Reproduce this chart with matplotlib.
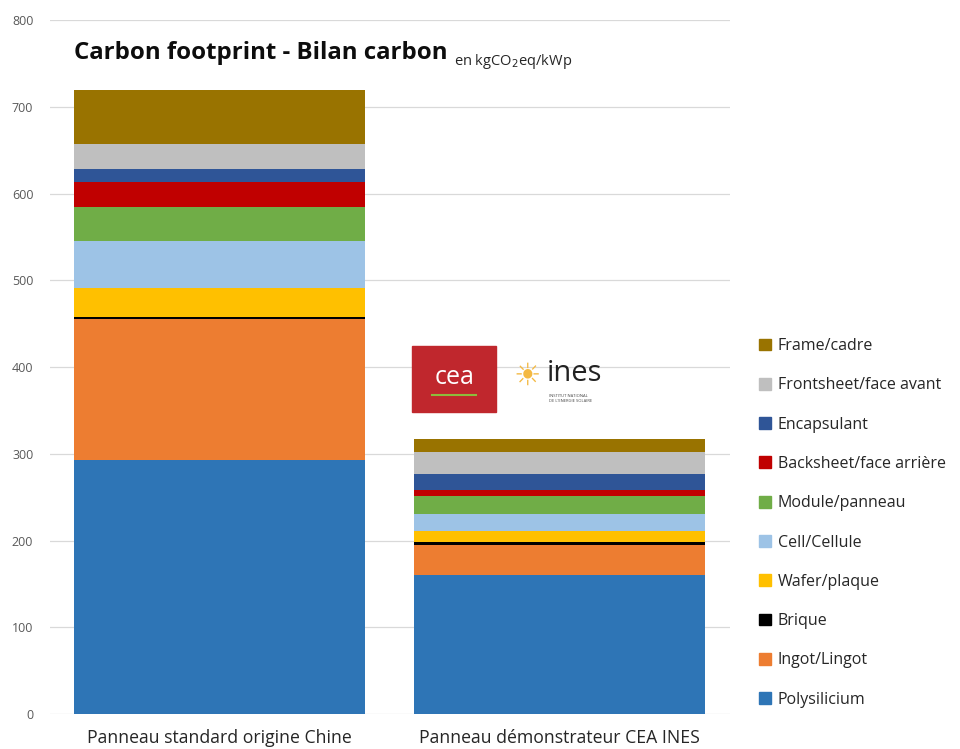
import matplotlib
matplotlib.use("Agg")
import matplotlib.pyplot as plt
import numpy as np
from matplotlib.patches import Rectangle, Patch

plt.rcParams['font.family'] = ['Open Sans', 'DejaVu Sans']

# data (kgCO2eq/kWp)
panels = ["Panneau standard origine Chine", "Panneau démonstrateur CEA INES"]
stages = ["Polysilicium", "Ingot/Lingot", "Brique", "Wafer/plaque", "Cell/Cellule",
          "Module/panneau", "Backsheet/face arrière", "Encapsulant",
          "Frontsheet/face avant", "Frame/cadre"]
chine = [293, 162, 3, 33, 55, 39, 29, 14, 29, 62]
ines = [160, 35, 3, 13, 20, 20, 7, 19, 25, 15]
colors = ["#2e75b6", "#ed7d31", "#000000", "#ffc000", "#9dc3e6",
          "#70ad47", "#c00000", "#2f5597", "#bfbfbf", "#997300"]

fig = plt.figure(figsize=(9.6, 7.49), dpi=100)
ax = fig.add_axes([0.052, 0.0467, 0.708, 0.9263])

x = np.arange(len(panels))
bottom = np.zeros(len(panels))
for i, name in enumerate(stages):
    vals = np.array([chine[i], ines[i]])
    ax.bar(x, vals, 0.856, bottom=bottom, color=colors[i], label=name, zorder=2)
    bottom += vals

ax.set_xlim(-0.5, 1.5)
ax.set_ylim(0, 800)
ax.set_yticks(range(0, 801, 100))
ax.yaxis.grid(True, color="#d9d9d9", linewidth=0.9, zorder=0)
for s in ax.spines.values():
    s.set_visible(False)
ax.tick_params(axis="y", length=0, labelsize=9, labelcolor="#595959", pad=12)
ax.tick_params(axis="x", length=0, labelsize=12.7, labelcolor="#262626", pad=11)
ax.set_xticks(x)
ax.set_xticklabels(panels)

# legend, top entry first
handles = [Patch(color=c) for c in colors][::-1]
fig.legend(handles, stages[::-1], loc="upper left", bbox_to_anchor=(0.776, 0.568),
           frameon=False, fontsize=11.5, handlelength=0.75, handleheight=0.75,
           handletextpad=0.4, labelspacing=1.46, labelcolor="#262626")

# title + unit right after it
t = fig.text(0.077, 0.921, "Carbon footprint - Bilan carbon", fontsize=17.3,
             fontweight="bold", color="#0d0d0d")
ax.annotate("en kgCO$_2$eq/kWp", xy=(1, 0), xycoords=t, xytext=(5, 0),
            textcoords="offset points", fontsize=10.5, color="#262626", va="baseline")

# logos
fig.patches.append(Rectangle((0.429, 0.450), 0.088, 0.088, transform=fig.transFigure,
                             color="#c0272d", zorder=5))
fig.text(0.473, 0.496, "cea", fontsize=18, color="white", ha="center", va="center",
         zorder=6)
fig.lines.append(plt.Line2D([0.450, 0.496], [0.472, 0.472], transform=fig.transFigure,
                            color="#8dbb3c", linewidth=1.5, zorder=6))
fig.text(0.549, 0.497, "☀", fontsize=22, color="#f4b942", ha="center", va="center",
         family="DejaVu Sans")
fig.text(0.570, 0.502, "ines", fontsize=21, color="#222222", va="center")
fig.text(0.572, 0.468, "INSTITUT NATIONAL\nDE L'ENERGIE SOLAIRE", fontsize=3,
         color="#444444", va="center")

fig.savefig("out.png", dpi=100)
